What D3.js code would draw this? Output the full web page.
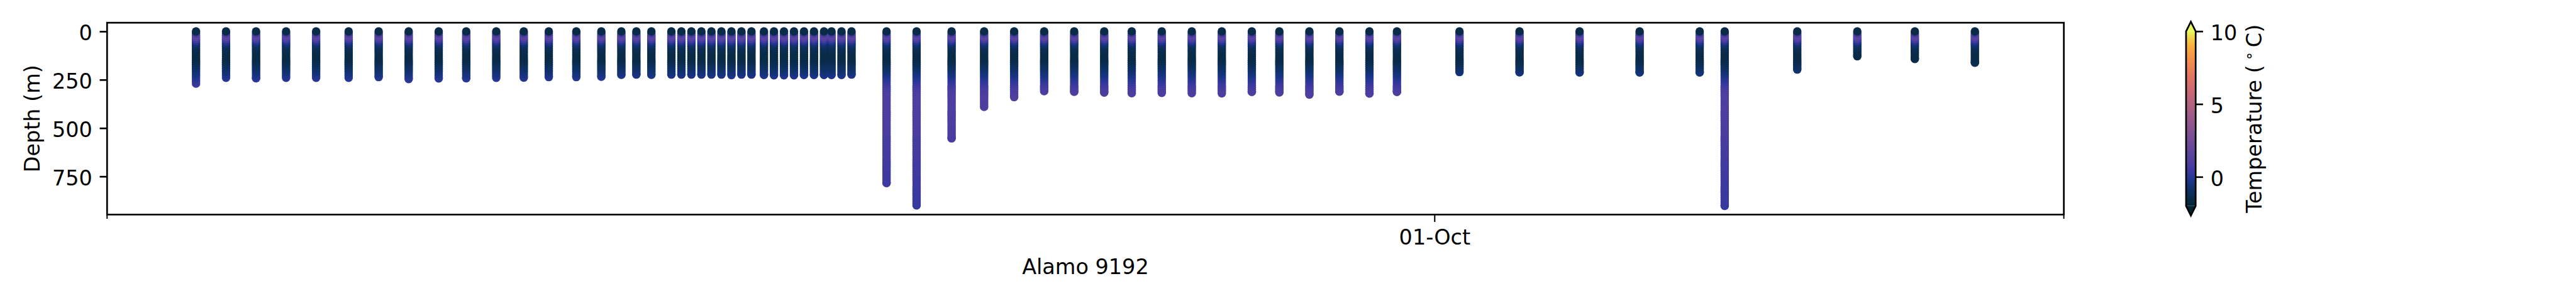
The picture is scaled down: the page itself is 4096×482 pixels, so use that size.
<!DOCTYPE html>
<html>
<head>
<meta charset="utf-8">
<script src="https://cdn.jsdelivr.net/npm/d3@7"></script>
<style>
html, body { margin: 0; padding: 0; background: #ffffff; overflow: hidden; }
svg { display: block; }
</style>
</head>
<body>
<svg id="chart" width="4096" height="482"></svg>
<script>
// ---------------- data ----------------
const baseTime = "2019-10-01T00:00:00Z";           // the 01-Oct tick
// profile times, hours relative to baseTime
const profileHours = [-495,-483,-471,-459,-447,-434,-422,-410,-398,-387,
                      -375,-364,-354,-343,-333,-325,-319,-313,-305,-301,
                      -297,-293,-289,-285,-281,-277,-273,-268,-264,-260,
                      -256,-252,-248,-244,-241,-237,-233,-219,-207,-193,
                      -180,-168,-156,-144,-132,-121,-109,-97,-85,-73,
                      -62,-50,-38,-26,-15,10,34,58,82,106,
                      116,145,169,192,216];
// deepest sample of each profile (m)
const profileMaxDepth = [270,240,242,240,240,240,236,246,243,242,
                         240,239,236,236,234,224,223,224,223,223,
                         223,223,223,223,226,223,223,225,227,227,
                         227,225,225,225,225,225,223,784,900,553,
                         390,340,309,312,316,319,318,319,320,313,
                         315,327,311,321,313,210,211,212,212,212,
                         902,197,128,142,162];
// sampled depth levels (m) and the temperature seen at each (deg C)
const depthLevels = [0,10,20,30,40,50,60,70,80,90,
                     100,110,120,130,140,150,160,170,180,190,
                     200,210,220,230,240,250,260,270,280,290,
                     300,310,320,330,340,350,360,370,380,390,
                     400,410,420,430,440,450,460,470,480,490,
                     500,510,520,530,540,550,560,570,580,590,
                     600,610,620,630,640,650,660,670,680,690,
                     700,710,720,730,740,750,760,770,780,790,
                     800,810,820,830,840,850,860,870,880,890,900];
const levelTemperature = [-1.5,0.6,1.5,1.3,0.5,-0.2,-0.7,-1.0,-1.2,-1.35,
                          -1.45,-1.5,-1.5,-1.5,-1.45,-1.35,-1.2,-1.05,-0.9,-0.8,
                          -0.65,-0.5,-0.35,-0.2,-0.05,0.1,0.3,0.5,0.65,0.75,
                          0.85,0.9,0.95,0.95,0.95,0.95,0.95,0.95,0.95,0.95,
                          0.95,0.95,0.93,0.92,0.9,0.9,0.88,0.87,0.85,0.84,
                          0.83,0.82,0.8,0.78,0.77,0.75,0.74,0.72,0.71,0.7,
                          0.68,0.67,0.66,0.65,0.63,0.62,0.6,0.59,0.58,0.57,
                          0.55,0.54,0.53,0.52,0.5,0.49,0.48,0.47,0.46,0.45,
                          0.44,0.43,0.42,0.41,0.4,0.39,0.38,0.37,0.36,0.35,0.34];
const depthTicks = [0, 250, 500, 750];
const tempTicks = [0, 5, 10];
const tempLimits = [-2, 10];
const xAxisLabel = "Alamo 9192";
const yAxisLabel = "Depth (m)";

// ---------------- styling / layout (reference pixel units) ----------------
const K = 4096 / 5100;                  // output scale
const FONT = "DejaVu Sans";
const FS = 41.67;                       // 10 pt at 300 dpi
const LW = 3.33;                        // 0.8 pt
const plot = { left: 212, right: 4086, top: 45, bottom: 425 };
const cbar = { left: 4328, right: 4347, top: 62, bottom: 408, ext: 19 };
const markerR = 8.4;

// cmocean "thermal" colormap key colours (by temperature within the -2..10 range)
const thermalStops = [-2,-1.5,-1,-0.5,0,0.5,1,2,3,4,5,6,7,8,9,9.5,10];
const thermalColors = ["#042333","#0a2b48","#0d2f5e","#15337d","#2a3797","#3f3a9f","#4f3f9f",
                       "#67479a","#7f5092","#99598a","#b36280","#cd6972","#e4775f","#f58e4b",
                       "#f9b03c","#f3cf48","#e8fa5b"];
const color = d3.scaleLinear().domain(thermalStops).range(thermalColors)
  .interpolate(d3.interpolateRgb).clamp(true);

// ---------------- build ----------------
const t0 = Date.parse(baseTime);
const profiles = profileHours.map((h, i) => {
  const maxDepth = profileMaxDepth[i];
  const pts = [];
  depthLevels.forEach((d, j) => { if (d < maxDepth) pts.push({ depth: d, temp: levelTemperature[j] }); });
  const nearest = d3.leastIndex(depthLevels, d => Math.abs(d - maxDepth));
  pts.push({ depth: maxDepth, temp: levelTemperature[nearest] });
  pts.reverse();                         // deep first, shallow drawn on top
  return { time: new Date(t0 + h * 3600e3), maxDepth, pts };
});

// matplotlib-like 5% margins
const tExt = d3.extent(profiles, p => +p.time);
const tPad = (tExt[1] - tExt[0]) * 0.05;
const x = d3.scaleUtc().domain([new Date(tExt[0] - tPad), new Date(tExt[1] + tPad)])
  .range([plot.left, plot.right]);
const dMax = d3.max(profileMaxDepth), dMin = d3.min(depthLevels);
const dPad = (dMax - dMin) * 0.05;
const y = d3.scaleLinear().domain([dMin - dPad, dMax + dPad]).range([plot.top, plot.bottom]);

const svg = d3.select("#chart");
svg.append("rect").attr("width", 4096).attr("height", 482).attr("fill", "#ffffff");
const g = svg.append("g").attr("transform", `scale(${K})`)
  .attr("font-family", FONT).attr("font-size", FS).attr("fill", "#000");

// clip for the plot area
g.append("clipPath").attr("id", "plotClip").append("rect")
  .attr("x", plot.left).attr("y", plot.top)
  .attr("width", plot.right - plot.left).attr("height", plot.bottom - plot.top);

const marks = g.append("g").attr("clip-path", "url(#plotClip)");
profiles.forEach(p => {
  marks.append("g").selectAll("circle").data(p.pts).join("circle")
    .attr("cx", x(p.time)).attr("cy", d => y(d.depth)).attr("r", markerR)
    .attr("fill", d => color(d.temp));
});

// spines
g.append("rect").attr("x", plot.left).attr("y", plot.top)
  .attr("width", plot.right - plot.left).attr("height", plot.bottom - plot.top)
  .attr("fill", "none").attr("stroke", "#000").attr("stroke-width", LW);

// y axis
const yAx = g.append("g").attr("transform", `translate(${plot.left},0)`)
  .call(d3.axisLeft(y).tickValues(depthTicks).tickSize(14.6).tickPadding(14.6).tickFormat(d3.format("d")));
yAx.select(".domain").remove();
yAx.selectAll(".tick line").attr("stroke", "#000").attr("stroke-width", LW);
yAx.selectAll(".tick text").attr("font-family", FONT).attr("font-size", FS).attr("fill", "#000")
  .attr("dy", "0.41em");

// x axis: major tick at 01-Oct, minor ticks at the ends
const majorTimes = [new Date(t0)];
const xAx = g.append("g").attr("transform", `translate(0,${plot.bottom})`)
  .call(d3.axisBottom(x).tickValues(majorTimes).tickSize(14.6).tickPadding(14.6)
    .tickFormat(d3.utcFormat("%d-%b")));
xAx.select(".domain").remove();
xAx.selectAll(".tick line").attr("stroke", "#000").attr("stroke-width", 2.6);
xAx.selectAll(".tick text").attr("font-family", FONT).attr("font-size", FS).attr("fill", "#000")
  .attr("dy", "0.71em");
g.append("g").selectAll("line").data(x.domain()).join("line")
  .attr("x1", d => x(d)).attr("x2", d => x(d))
  .attr("y1", plot.bottom).attr("y2", plot.bottom + 8.3)
  .attr("stroke", "#000").attr("stroke-width", 2.5);

// axis labels
g.append("text").attr("x", (plot.left + plot.right) / 2).attr("y", 543)
  .attr("text-anchor", "middle").text(xAxisLabel);
g.append("text").attr("transform", `translate(78,${(plot.top + plot.bottom) / 2}) rotate(-90)`)
  .attr("text-anchor", "middle").text(yAxisLabel);

// colorbar
const cy = d3.scaleLinear().domain(tempLimits).range([cbar.bottom, cbar.top]);
const grad = g.append("defs").append("linearGradient").attr("id", "cbGrad")
  .attr("x1", 0).attr("y1", 1).attr("x2", 0).attr("y2", 0);
d3.range(0, 1.0001, 0.02).forEach(f => {
  grad.append("stop").attr("offset", f)
    .attr("stop-color", color(tempLimits[0] + f * (tempLimits[1] - tempLimits[0])));
});
const cxm = (cbar.left + cbar.right) / 2;
g.append("rect").attr("x", cbar.left).attr("y", cbar.top)
  .attr("width", cbar.right - cbar.left).attr("height", cbar.bottom - cbar.top)
  .attr("fill", "url(#cbGrad)");
g.append("path").attr("d", `M${cbar.left},${cbar.top}L${cxm},${cbar.top - cbar.ext}L${cbar.right},${cbar.top}Z`)
  .attr("fill", color(tempLimits[1]));
g.append("path").attr("d", `M${cbar.left},${cbar.bottom}L${cxm},${cbar.bottom + cbar.ext}L${cbar.right},${cbar.bottom}Z`)
  .attr("fill", color(tempLimits[0]));
g.append("path")
  .attr("d", `M${cbar.left},${cbar.top}L${cxm},${cbar.top - cbar.ext}L${cbar.right},${cbar.top}` +
             `L${cbar.right},${cbar.bottom}L${cxm},${cbar.bottom + cbar.ext}L${cbar.left},${cbar.bottom}Z`)
  .attr("fill", "none").attr("stroke", "#000").attr("stroke-width", LW).attr("stroke-linejoin", "miter");
const cAx = g.append("g").attr("transform", `translate(${cbar.right},0)`)
  .call(d3.axisRight(cy).tickValues(tempTicks).tickSize(14.6).tickPadding(14.6).tickFormat(d3.format("d")));
cAx.select(".domain").remove();
cAx.selectAll(".tick line").attr("stroke", "#000").attr("stroke-width", LW);
cAx.selectAll(".tick text").attr("font-family", FONT).attr("font-size", FS).attr("fill", "#000")
  .attr("dy", "0.41em");
const cl = g.append("text")
  .attr("transform", `translate(4477,${(cbar.top + cbar.bottom) / 2}) rotate(-90)`)
  .attr("text-anchor", "middle");
cl.append("tspan").text("Temperature (\u2009");
cl.append("tspan").attr("font-size", FS * 0.7).attr("dy", -15).text("\u2218");
cl.append("tspan").attr("dy", 15).text("\u2009C)");
</script>
</body>
</html>
